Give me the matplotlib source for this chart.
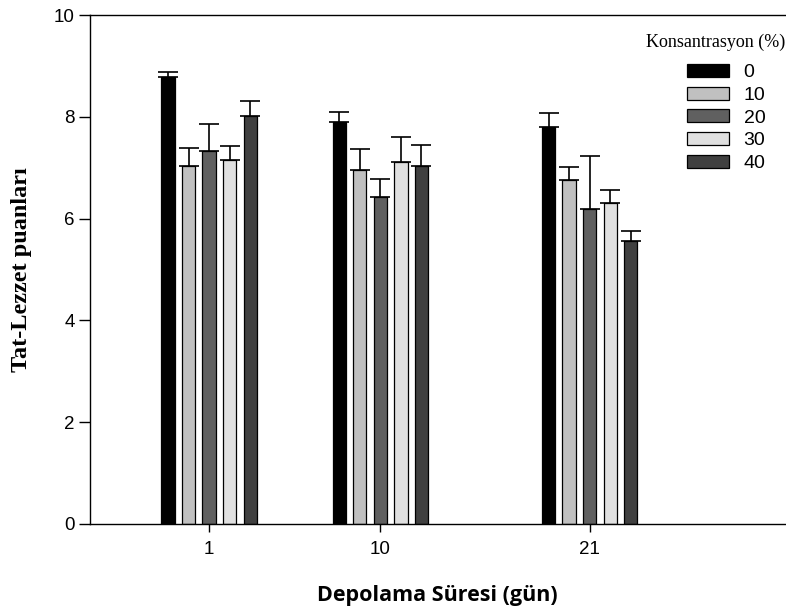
import matplotlib
matplotlib.use("Agg")
import matplotlib.pyplot as plt
import numpy as np

# gün ve konsantrasyonlar
days = [1, 10, 21]
concs = ["0", "10", "20", "30", "40"]

# ortalamalar (her konsantrasyon için, gün sırasına göre)
means = {
    "0":  [8.78, 7.90, 7.80],
    "10": [7.03, 6.95, 6.76],
    "20": [7.33, 6.42, 6.19],
    "30": [7.15, 7.11, 6.30],
    "40": [8.02, 7.03, 5.56],
}
# standart sapmalar (sadece yukarı)
errs = {
    "0":  [0.10, 0.19, 0.27],
    "10": [0.36, 0.42, 0.25],
    "20": [0.53, 0.36, 1.04],
    "30": [0.28, 0.49, 0.26],
    "40": [0.30, 0.42, 0.20],
}
colors = ["#000000", "#c0c0c0", "#606060", "#e0e0e0", "#404040"]

fig = plt.figure(figsize=(7.86, 6.16), dpi=100)
ax = fig.add_axes([0.1145, 0.1494, 0.885, 0.8262])

width = 0.7
step = 1.08
x = np.array(days, dtype=float)
for i, c in enumerate(concs):
    pos = x + (i - 2) * step
    ax.bar(pos, means[c], width, color=colors[i], edgecolor="black",
           linewidth=0.9, label=c, zorder=2)
    ax.errorbar(pos, means[c], yerr=[np.zeros(3), errs[c]], fmt="none",
                ecolor="black", elinewidth=1.2, capsize=7, capthick=1.2, zorder=3)

ax.set_xlim(-5.26, 31.3)
ax.set_ylim(0, 10)
ax.set_xticks(days)
ax.set_xticklabels([str(d) for d in days])
ax.set_yticks([0, 2, 4, 6, 8, 10])
ax.spines["right"].set_visible(False)
for s in ["left", "bottom", "top"]:
    ax.spines[s].set_linewidth(1.0)
ax.tick_params(axis="y", direction="out", length=8, width=1, labelsize=13.5, pad=3)
ax.tick_params(axis="x", direction="out", length=6, width=1, labelsize=13.5, pad=6)
for lab in ax.get_xticklabels() + ax.get_yticklabels():
    lab.set_family("Liberation Sans")

ax.set_ylabel("Tat-Lezzet puanları", family="Liberation Serif", fontweight="bold",
              fontsize=17.5, labelpad=16)
ax.set_xlabel("Depolama Süresi (gün)", family="Open Sans", fontweight="bold",
              fontsize=15.5, labelpad=20)

# legend başlığı ayrı metin olarak
ax.text(0.999, 0.947, "Konsantrasyon (%)", transform=ax.transAxes, ha="right",
        va="center", family="Liberation Serif", fontsize=13)
leg = ax.legend(loc="upper right", bbox_to_anchor=(0.971, 0.904), frameon=False,
                prop={"family": "Liberation Sans", "size": 14},
                handlelength=2.16, handleheight=0.65, labelspacing=0.28,
                handletextpad=0.77, borderaxespad=0, borderpad=0)

fig.savefig("out.png", dpi=100)
